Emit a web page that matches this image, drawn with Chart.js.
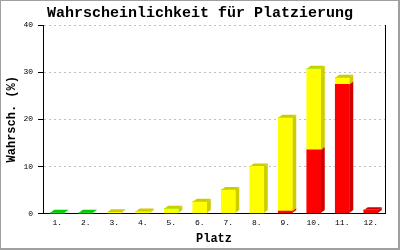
<!DOCTYPE html>
<html>
<head>
<meta charset="utf-8">
<script src="https://cdn.jsdelivr.net/npm/chart.js@4"></script>
<style>
html,body{margin:0;padding:0;background:#fff;}
canvas{display:block;}
</style>
</head>
<body>
<canvas id="c" width="400" height="250"></canvas>
<script>
const categories = ["1.","2.","3.","4.","5.","6.","7.","8.","9.","10.","11.","12."];
const redValues    = [0, 0, 0, 0, 0, 0, 0, 0, 0.5, 13.5, 27.4, 0.7];
const yellowValues = [0, 0, 0.25, 0.4, 1.0, 2.5, 5.0, 10.0, 19.8, 17.2, 1.4, 0];
const greenValues  = [0.15, 0.15, 0, 0, 0, 0, 0, 0, 0, 0, 0, 0];
const yTicks = [0, 10, 20, 30, 40];

const MONO = '"Liberation Mono", "DejaVu Sans Mono", monospace';

const depth3d = {
  id: 'depth3d',
  beforeDatasetsDraw(chart) {
    const ctx = chart.ctx, dx = 4, dy = 3;
    ctx.save();
    chart.data.datasets.forEach((ds, i) => {
      const meta = chart.getDatasetMeta(i);
      meta.data.forEach((el, j) => {
        if (!ds.data[j]) return;
        const p = el.getProps(['x', 'y', 'base', 'width'], true);
        const l = p.x - p.width / 2, r = p.x + p.width / 2;
        ctx.fillStyle = ds.sideColor;
        ctx.beginPath();
        ctx.moveTo(r, p.base); ctx.lineTo(r + dx, p.base - dy);
        ctx.lineTo(r + dx, p.y - dy); ctx.lineTo(r, p.y);
        ctx.closePath(); ctx.fill();
        ctx.fillStyle = ds.topColor;
        ctx.beginPath();
        ctx.moveTo(l, p.y); ctx.lineTo(l + dx, p.y - dy);
        ctx.lineTo(r + dx, p.y - dy); ctx.lineTo(r, p.y);
        ctx.closePath(); ctx.fill();
      });
    });
    ctx.restore();
  },
  afterDraw(chart) {
    const ctx = chart.ctx;
    ctx.save();
    ctx.fillStyle = '#a0a0a0';
    ctx.fillRect(0, 0, 400, 1);
    ctx.fillRect(0, 0, 1, 250);
    ctx.fillRect(398, 0, 2, 250);
    ctx.fillRect(0, 248, 400, 2);
    ctx.restore();
  }
};

new Chart(document.getElementById('c'), {
  type: 'bar',
  data: {
    labels: categories,
    datasets: [
      { data: redValues, backgroundColor: '#ff0000', sideColor: '#cc0000', topColor: '#cc0000' },
      { data: yellowValues, backgroundColor: '#ffff00', sideColor: '#cccc00', topColor: '#cccc00' },
      { data: greenValues, backgroundColor: '#00cc00', sideColor: '#00aa00', topColor: '#00cc00' }
    ]
  },
  options: {
    responsive: false,
    animation: false,
    devicePixelRatio: 1,
    layout: { padding: { left: 2, right: 2, top: 0, bottom: 2 } },
    barThickness: 14,
    plugins: {
      legend: { display: false },
      tooltip: { enabled: false },
      title: {
        display: true,
        text: 'Wahrscheinlichkeit für Platzierung',
        color: '#000',
        font: { family: MONO, size: 15, weight: 'bold' },
        padding: { top: 4, bottom: 3 }
      }
    },
    scales: {
      x: {
        stacked: true,
        afterFit(s) { s.height = 34.5; },
        grid: { display: false, drawTicks: false },
        border: { display: true, color: '#000', width: 1 },
        ticks: { color: '#000', font: { family: MONO, size: 8 }, padding: 5, maxRotation: 0 },
        title: { display: true, text: 'Platz', color: '#000', font: { family: MONO, size: 12, weight: 'bold' }, padding: { top: 2, bottom: 2 } }
      },
      y: {
        stacked: true,
        min: 0, max: 40,
        afterFit(s) { s.width = 41; },
        afterBuildTicks(axis) { axis.ticks = yTicks.map(v => ({ value: v })); },
        grid: {
          color: c => (c.tick && c.tick.value === 0) ? 'rgba(0,0,0,0)' : '#c0c0c0',
          tickColor: '#000',
          tickLength: 5,
          tickBorderDash: [],
          drawTicks: true
        },
        border: { display: true, color: '#000', width: 1, dash: [2, 3] },
        ticks: { color: '#000', font: { family: MONO, size: 8 }, padding: 5 },
        title: { display: true, text: 'Wahrsch. (%)', color: '#000', font: { family: MONO, size: 12, weight: 'bold' }, padding: { top: 3, bottom: 3 } }
      },
      y2: {
        type: 'linear',
        position: 'right',
        min: 0, max: 40,
        afterFit(s) { s.width = 13; },
        grid: { display: false, drawTicks: false },
        border: { display: true, color: '#000', width: 1 },
        ticks: { display: false }
      }
    }
  },
  plugins: [depth3d]
});
</script>
</body>
</html>
